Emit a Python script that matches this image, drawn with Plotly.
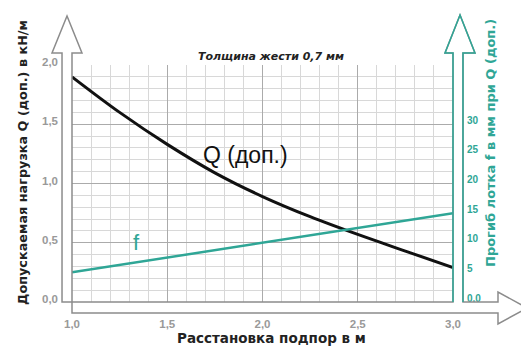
import plotly.graph_objects as go

# data
spacing = [1.0, 1.25, 1.5, 1.75, 2.0, 2.25, 2.5, 2.75, 3.0]
q_allow = [1.90, 1.60, 1.33, 1.09, 0.89, 0.72, 0.57, 0.43, 0.29]
f_spacing = [1.0, 1.5, 2.0, 2.5, 3.0]
f_sag = [5.0, 7.5, 10.0, 12.5, 15.0]

x_ticks = [1.0, 1.5, 2.0, 2.5, 3.0]
q_ticks = [0.0, 0.5, 1.0, 1.5, 2.0]
f_ticks = [0, 5, 10, 15, 20, 25, 30]
f_ticktext = ["0,0", "5", "10", "15", "20", "25", "30"]

W, H = 529, 347
OFF = 8                          # page body margin
L, R, T, B = 72, 453, 65, 302   # plot area in screen pixels
GRAY = "#8c8c8c"
TEAL = "#2fa696"
FONT = "Liberation Sans, Arial, sans-serif"
WIDE = "DejaVu Sans, sans-serif"


def px(x, y):
    # screen pixel -> paper coords
    return (x - L) / (R - L), (B - y) / (B - T)


def path(points, close=True):
    s = ""
    for i, (x, y) in enumerate(points):
        a, b = px(x, y)
        s += ("M" if i == 0 else "L") + f"{a:.4f},{b:.4f} "
    return s + ("Z" if close else "")


fig = go.Figure()

fig.add_trace(go.Scatter(x=spacing, y=q_allow, mode="lines", line=dict(color="#111111", width=3, shape="spline"),
                         showlegend=False))
fig.add_trace(go.Scatter(x=f_spacing, y=f_sag, mode="lines", yaxis="y2", line=dict(color=TEAL, width=2.5),
                         showlegend=False))

# hollow arrows
shapes = []
shapes.append(dict(type="path", xref="paper", yref="paper", line=dict(color=GRAY, width=1.5), fillcolor="white",
                   path=path([(62, 302), (62, 53), (52, 53), (67, 16), (82, 53), (72, 53), (72, 313),
                              (498, 313), (498, 324), (527, 308), (498, 292), (498, 302), (463, 302),
                              (463, 53), (475, 53), (460, 15), (445, 53), (453, 53), (453, 302)])))
shapes.append(dict(type="path", xref="paper", yref="paper", line=dict(color=TEAL, width=1.5),
                   path=path([(453, 302), (453, 53), (445, 53), (460, 15), (475, 53), (463, 53), (463, 302)],
                             close=False)))
fig.update_layout(shapes=shapes)


def paper_text(text, x, y, size, color, angle=0, family=WIDE, style="normal"):
    a, b = px(x, y)
    return dict(text=text, x=a, y=b, xref="paper", yref="paper", xanchor="center", yanchor="middle",
                textangle=angle, showarrow=False,
                font=dict(size=size, color=color, family=family, weight="bold", style=style))


ann = [
    paper_text("Толщина жести 0,7 мм", 271, 57, 11, "#222", style="italic"),
    paper_text("Допускаемая нагрузка Q (доп.) в кН/м", 22, 163, 12.8, "#222", angle=-90),
    paper_text("Прогиб лотка f в мм при Q (доп.)", 490, 143, 13, TEAL, angle=-90),
    paper_text("Расстановка подпор в м", 271, 338, 13.5, "#222"),
    dict(text="Q (доп.)", x=1.91, y=1.24, showarrow=False, font=dict(size=23, color="#111", family=FONT)),
    dict(text="f", x=1.34, y=0.50, showarrow=False, font=dict(size=22, color=TEAL, family=FONT)),
]
fig.update_layout(annotations=ann)

fig.update_layout(
    width=W - OFF, height=H - OFF,
    margin=dict(l=L - OFF, r=W - R, t=T - OFF, b=H - B, pad=0),
    paper_bgcolor="white", plot_bgcolor="white",
    separators=", ",
    font=dict(family=FONT),
    xaxis=dict(range=[1.0, 3.0], tickvals=x_ticks, tickformat=".1f", showline=False, zeroline=False,
               automargin=False, showgrid=True, gridcolor="#ababab", gridwidth=1,
               minor=dict(dtick=0.1, showgrid=True, gridcolor="#d8d8d8"),
               ticklabelstandoff=13, tickfont=dict(size=11.5, color="#999", weight="bold")),
    yaxis=dict(range=[0, 2.0], tickvals=q_ticks, tickformat=".1f", showline=False, zeroline=False,
               automargin=False, showgrid=True, gridcolor="#ababab", gridwidth=1,
               minor=dict(dtick=0.1, showgrid=True, gridcolor="#d8d8d8"),
               ticklabelstandoff=13, ticklabelshift=-3, tickfont=dict(size=11.5, color="#999", weight="bold")),
    yaxis2=dict(range=[0, 40], overlaying="y", side="right", tickvals=f_ticks, ticktext=f_ticktext,
                showgrid=False, zeroline=False, showline=False, automargin=False,
                ticklabelstandoff=13, ticklabelshift=-4, tickfont=dict(size=10, color=TEAL, weight="bold")),
)

fig.write_html("out.html")
